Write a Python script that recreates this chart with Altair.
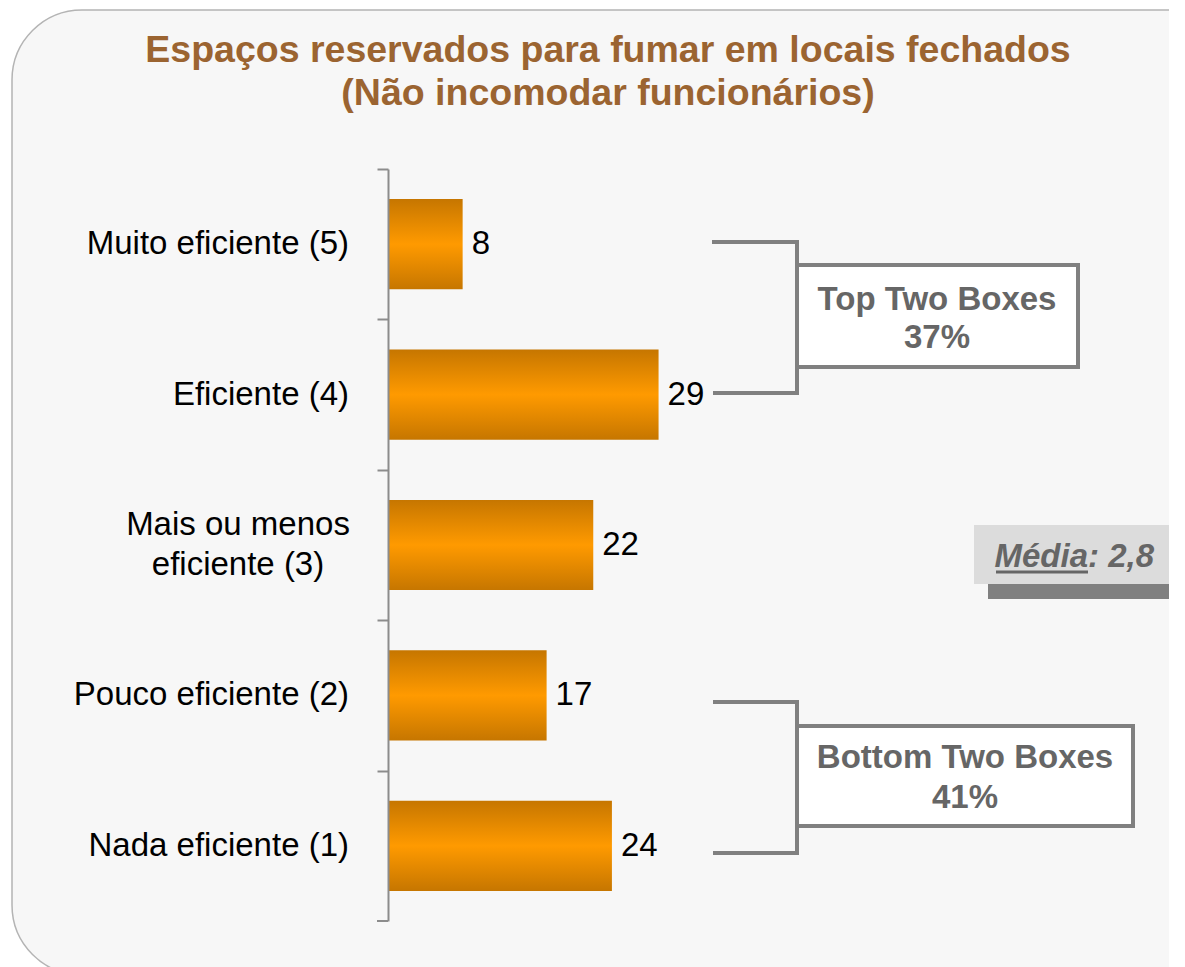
import altair as alt
import pandas as pd

# ---- data ----
categories = [
    "Muito eficiente (5)",
    "Eficiente (4)",
    "Mais ou menos\neficiente (3)",
    "Pouco eficiente (2)",
    "Nada eficiente (1)",
]
values = [8, 29, 22, 17, 24]
title_lines = ["Espaços reservados para fumar em locais fechados", "(Não incomodar funcionários)"]
top_box = ["Top Two Boxes", "37%"]
bottom_box = ["Bottom Two Boxes", "41%"]
media_label = "Média"
media_value = ": 2,8"

df = pd.DataFrame({
    "cat": categories,
    "val": values,
    "single": ["\n" not in c for c in categories],
})

FONT = "Liberation Sans"
GREY = "#808080"
AXGREY = "#8c8c8c"
TXTGREY = "#666666"
FS = 33

# plot-area origin on the page (for annotation placement)
OX, OY = 388, 169
PLOT_W, PLOT_H = 781, 752


def X(px):
    return alt.value(px - OX)


def Y(py):
    return alt.value(py - OY)


one = alt.Data(values=[{"k": 1}])


def rect(x1, y1, x2, y2, **kw):
    return alt.Chart(one).mark_rect(**kw).encode(x=X(x1), x2=X(x2), y=Y(y1), y2=Y(y2))


def rule(x1, y1, x2, y2, **kw):
    return alt.Chart(one).mark_rule(**kw).encode(x=X(x1), x2=X(x2), y=Y(y1), y2=Y(y2))


def text(s, x, y, **kw):
    kw.setdefault("baseline", "alphabetic")
    return alt.Chart(one).mark_text(text=s, font=FONT, **kw).encode(x=X(x), y=Y(y))


gradient = alt.Gradient(
    gradient="linear",
    stops=[
        alt.GradientStop(color="#c67600", offset=0),
        alt.GradientStop(color="#ff9a00", offset=0.5),
        alt.GradientStop(color="#c67600", offset=1),
    ],
    x1=0, x2=0, y1=0, y2=1,
)

panel = rect(12, 10, 1250, 975, cornerRadius=70, fill="#f7f7f7", stroke="#b4b4b4", strokeWidth=1.5)

ysc = alt.Y(
    "cat:N",
    sort=categories,
    scale=alt.Scale(paddingInner=0.4, paddingOuter=0.2),
    axis=alt.Axis(labels=False, title=None, domainColor=AXGREY, domainWidth=2,
                  tickColor=AXGREY, tickWidth=2, tickSize=11, tickOffset=-PLOT_H / 10, zindex=1),
)
xsc = alt.X("val:Q", scale=alt.Scale(domain=[0, PLOT_W / 9.33], nice=False, zero=True), axis=None)

base = alt.Chart(df)
bars = base.mark_bar(fill=gradient).encode(x=xsc, y=ysc)
vals = base.mark_text(align="left", baseline="middle", dx=9, fontSize=FS, font=FONT, color="black").encode(
    x=xsc, y=ysc, text="val:Q")
labels1 = base.transform_filter("datum.single").mark_text(
    align="right", baseline="middle", fontSize=FS, font=FONT, color="black").encode(
    x=X(349), y=ysc, text="cat:N")
labels2 = base.transform_filter("!datum.single").mark_text(
    align="center", baseline="middle", fontSize=FS, font=FONT, color="black", lineBreak="\n",
    lineHeight=40, dy=-20).encode(
    x=X(238), y=ysc, text="cat:N")
last_tick = rule(377, 921, 388, 921, color=AXGREY, strokeWidth=2)

title_style = dict(fontSize=37.5, fontWeight="bold", color="#9b6431", align="center")
t1 = text(title_lines[0], 608, 62, **title_style)
t2 = text(title_lines[1], 608, 105, **title_style)

line = dict(color=GREY, strokeWidth=4)
box_txt = dict(fontSize=FS, fontWeight="bold", color=TXTGREY, align="center")
top_parts = [
    rule(712, 242, 797, 242, **line),
    rule(713, 393, 797, 393, **line),
    rule(797, 240, 797, 395, **line),
    rect(797, 265, 1078, 367, fill="white", stroke=GREY, strokeWidth=4),
    text(top_box[0], 937, 310, **box_txt),
    text(top_box[1], 937, 348, **box_txt),
]
bottom_parts = [
    rule(713, 702, 797, 702, **line),
    rule(713, 853, 797, 853, **line),
    rule(797, 700, 797, 855, **line),
    rect(797, 726, 1133, 826, fill="white", stroke=GREY, strokeWidth=4),
    text(bottom_box[0], 965, 768, **box_txt),
    text(bottom_box[1], 965, 808, **box_txt),
]
media_txt = dict(fontSize=FS, fontWeight="bold", fontStyle="italic", color=TXTGREY)
media_parts = [
    rect(988, 539, 1250, 599, fill="#808080"),
    rect(974, 525, 1175, 584, fill="#dcdcdc"),
    text(media_label, 1088, 567, align="right", **media_txt),
    text(media_value, 1088, 567, align="left", **media_txt),
    rule(996, 572, 1088, 572, color=TXTGREY, strokeWidth=3),
]

chart = alt.layer(
    panel, bars, vals, labels1, labels2, last_tick, t1, t2, *top_parts, *bottom_parts, *media_parts
).properties(
    width=PLOT_W,
    height=PLOT_H,
    padding={"left": 380, "top": 161, "right": 0, "bottom": 46},
    autosize=alt.AutoSizeParams(type="none"),
    background="white",
).configure_view(stroke=None)

chart.save("out.html", embed_options={"renderer": "svg", "actions": False})
